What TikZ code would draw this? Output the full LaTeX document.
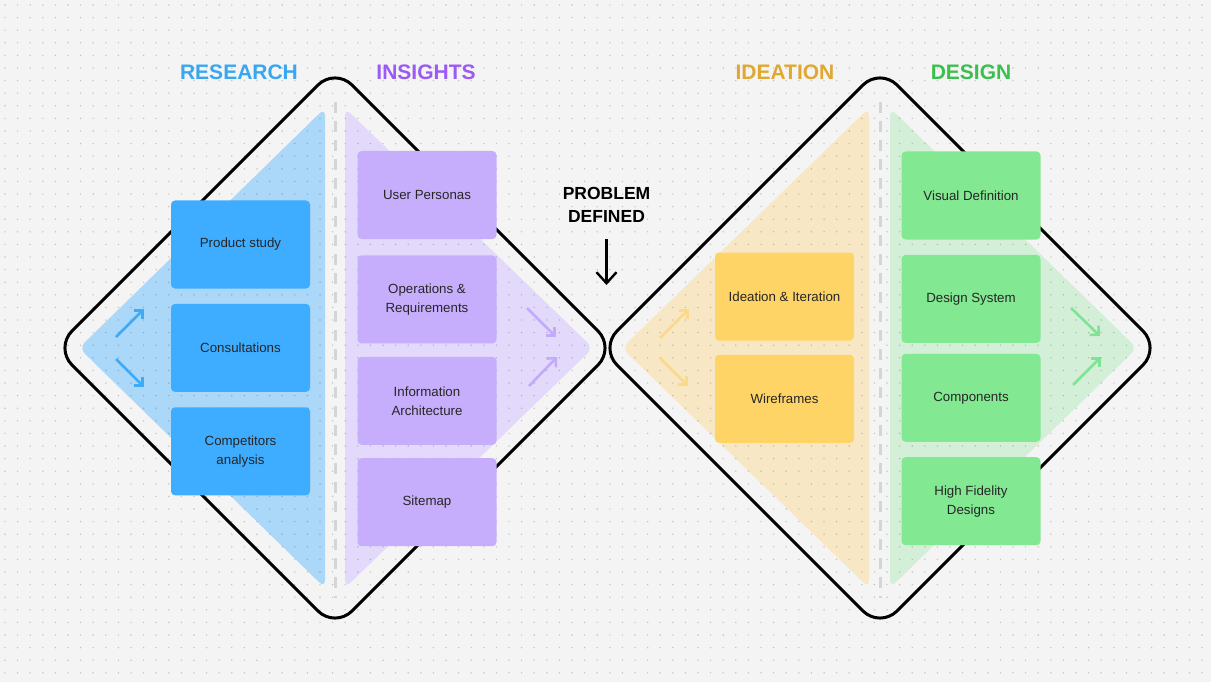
\documentclass[tikz,border=0pt]{standalone}
\usepackage{fontspec}
\setmainfont{Liberation Sans}
\usetikzlibrary{arrows.meta, positioning}
\definecolor{canvas}{HTML}{F4F4F4}
\definecolor{ink}{HTML}{262626}
\definecolor{divgray}{HTML}{D5D5D5}
\definecolor{researchTitle}{HTML}{38A6F0}
\definecolor{insightsTitle}{HTML}{9B59F5}
\definecolor{ideationTitle}{HTML}{E0A831}
\definecolor{designTitle}{HTML}{3DBF4F}
\definecolor{blueCard}{HTML}{3EADFF}
\definecolor{blueTri}{HTML}{ABD7F8}
\definecolor{blueArrow}{HTML}{3FABF8}
\definecolor{purpleCard}{HTML}{C7AEFD}
\definecolor{purpleTri}{HTML}{E3D9FA}
\definecolor{purpleArrow}{HTML}{C4AAFA}
\definecolor{yellowCard}{HTML}{FFD466}
\definecolor{yellowTri}{HTML}{F8E7C4}
\definecolor{yellowArrow}{HTML}{FCD98A}
\definecolor{greenCard}{HTML}{83E892}
\definecolor{greenTri}{HTML}{D4EFD8}
\definecolor{greenArrow}{HTML}{80E394}
\tikzstyle{card} = [rectangle, rounded corners=4pt, minimum width=139pt, minimum height=88pt, inner sep=2pt, align=center, text=ink, font=\fontsize{13.3}{19}\selectfont]
\tikzstyle{phase} = [inner sep=0pt, font=\fontsize{21}{25}\selectfont\bfseries]
\tikzstyle{frame} = [line width=3pt, rounded corners=24pt, draw=black]
\tikzstyle{divider} = [line width=3pt, draw=divgray, dash pattern=on 11pt off 8pt]
\tikzstyle{trend} = [line width=2.6pt, -{Straight Barb[angle=90:9pt]}]
\tikzstyle{arrow} = [line width=2.4pt, -{Straight Barb[length=11pt, width=20pt]}]

\begin{document}
\begin{tikzpicture}[x=1pt, y=-1pt]
    \useasboundingbox (0,0) rectangle (1211,682);
    \fill[canvas] (0,0) rectangle (1211,682);

    % Triangles
    \fill[blueTri, rounded corners=8pt] (79,348) -- (325,108) -- (325,588) -- cycle;
    \fill[purpleTri, rounded corners=8pt] (345,108) -- (593,348) -- (345,588) -- cycle;
    \fill[yellowTri, rounded corners=8pt] (622,348) -- (869,108) -- (869,588) -- cycle;
    \fill[greenTri, rounded corners=8pt] (890,108) -- (1137,348) -- (890,588) -- cycle;

    % Dot grid
    \foreach \i in {0,...,95}
        \foreach \j in {0,...,53}
            \fill[black, opacity=0.2] (5+12.6*\i, 5+12.6*\j) circle (0.8pt);

    % Diamonds
    \draw[frame] (55,348) -- (335,68) -- (615,348) -- (335,628) -- cycle;
    \draw[frame] (600,348) -- (880,68) -- (1160,348) -- (880,628) -- cycle;
    \draw[divider] (335,102) -- (335,598);
    \draw[divider] (880,102) -- (880,598);

    % Titles
    \node[phase, text=researchTitle] (research) at (239,72) {RESEARCH};
    \node[phase, text=insightsTitle] (insights) at (426,72) {INSIGHTS};
    \node[phase, text=ideationTitle] (ideation) at (785,72) {IDEATION};
    \node[phase, text=designTitle] (design) at (971,72) {DESIGN};

    % Nodes
    \node[card, fill=blueCard] (study) at (240.5,244.5) {Product study};
    \node[card, fill=blueCard, below=15pt of study] (consult) {Consultations};
    \node[card, fill=blueCard, below=15pt of consult] (compet) {Competitors\\analysis};

    \node[card, fill=purpleCard] (persona) at (427,195) {User Personas};
    \node[card, fill=purpleCard, below=16pt of persona] (ops) {Operations \&\\Requirements};
    \node[card, fill=purpleCard, below=13pt of ops] (info) {Information\\Architecture};
    \node[card, fill=purpleCard, below=13pt of info] (sitemap) {Sitemap};

    \node[card, fill=yellowCard] (iterate) at (784.5,296.5) {Ideation \& Iteration};
    \node[card, fill=yellowCard, below=14pt of iterate] (wire) {Wireframes};

    \node[card, fill=greenCard] (visual) at (971,195.5) {Visual Definition};
    \node[card, fill=greenCard, below=15pt of visual] (system) {Design System};
    \node[card, fill=greenCard, below=10.5pt of system] (comp) {Components};
    \node[card, fill=greenCard, below=15pt of comp] (hifi) {High Fidelity\\Designs};

    \node[inner sep=0pt, align=center, font=\fontsize{17.5}{23}\selectfont\bfseries] (problem) at (606.5,204.5) {PROBLEM\\DEFINED};
    \coordinate (defined) at (606.5,285);

    % Arrows
    \draw[arrow] ([yshift=-17pt]problem.south) -- (defined);
    \draw[trend, blueArrow] (116,337) -- (144,309);
    \draw[trend, blueArrow] (116,359) -- (144,387);
    \draw[trend, purpleArrow] (527,308) -- (556,337);
    \draw[trend, purpleArrow] (529,386) -- (557,357);
    \draw[trend, yellowArrow] (660,338) -- (689,309);
    \draw[trend, yellowArrow] (660,358) -- (688,386);
    \draw[trend, greenArrow] (1071,308) -- (1100,336);
    \draw[trend, greenArrow] (1073,385) -- (1101,357);

\end{tikzpicture}
\end{document}
